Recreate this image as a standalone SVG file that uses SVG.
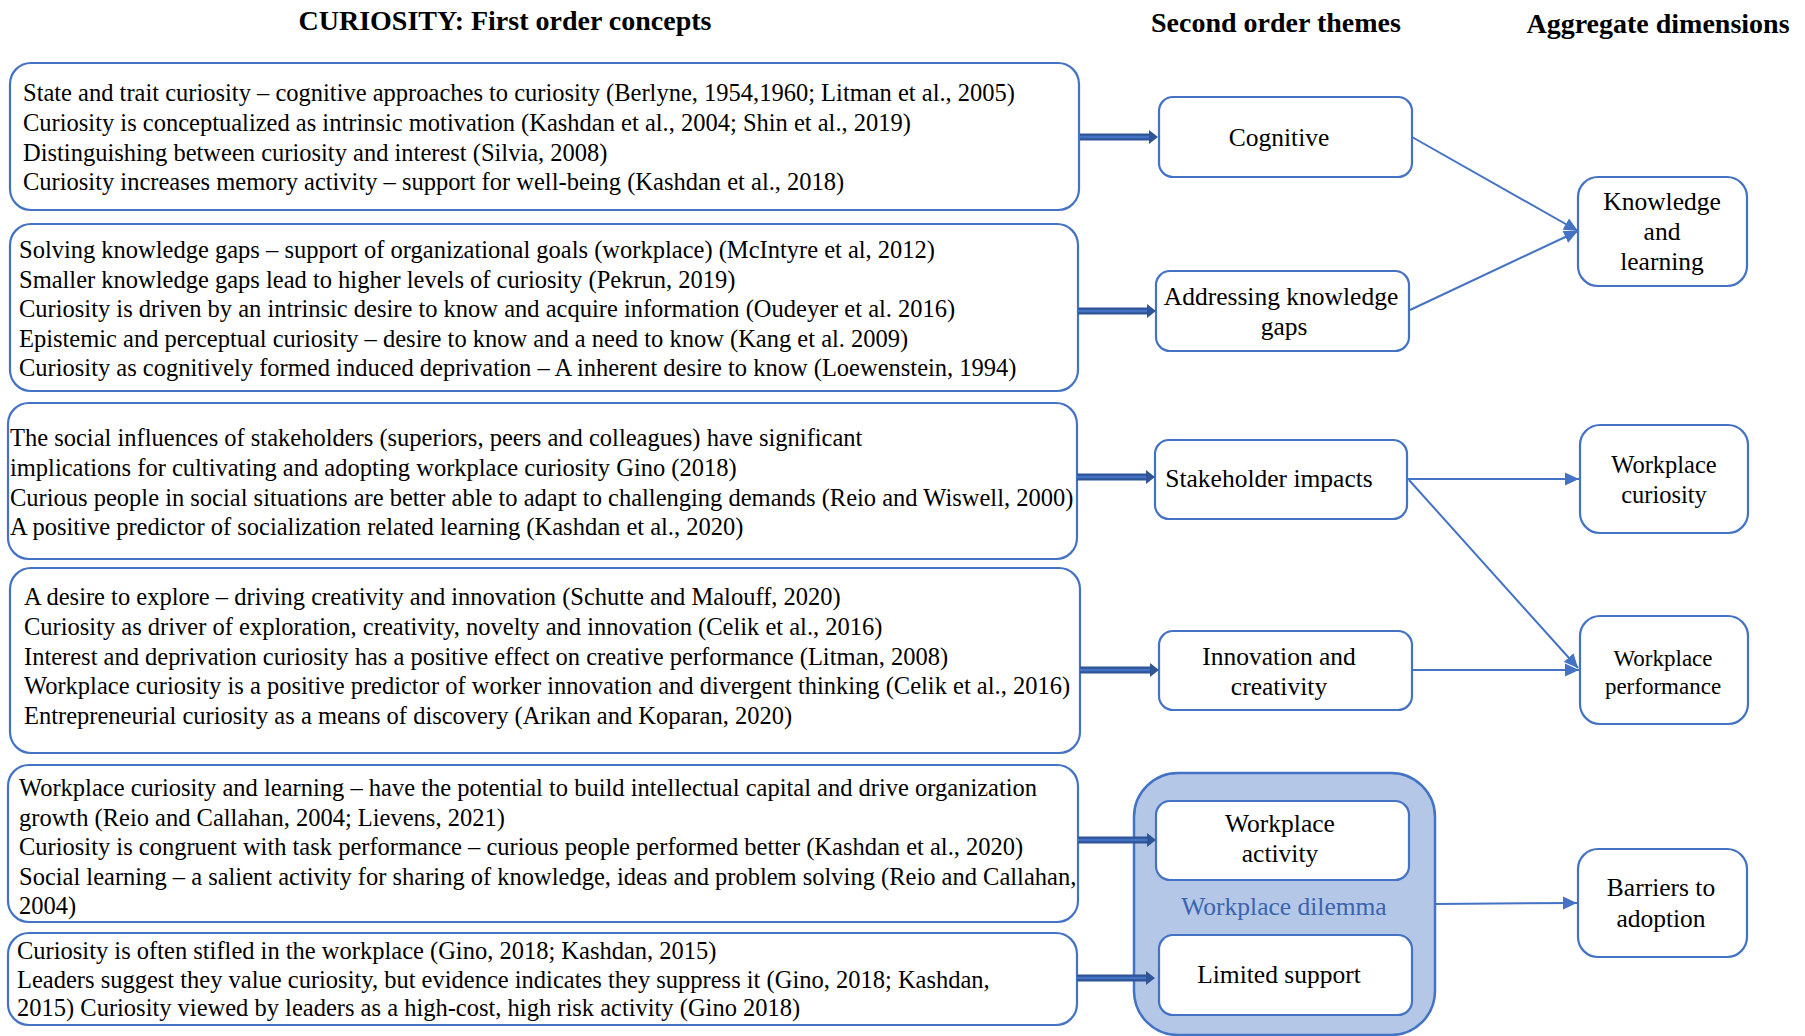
<svg xmlns="http://www.w3.org/2000/svg" width="1805" height="1036" viewBox="0 0 1805 1036">
<style>
.hd{font-family:"Liberation Serif","Times New Roman",serif;font-weight:bold;font-size:28px;fill:#000}
.lt{font-family:"Liberation Serif","Times New Roman",serif;font-size:24.5px;fill:#000}
.nt{font-family:"Liberation Serif","Times New Roman",serif;font-size:25.5px;fill:#000;text-anchor:middle}
.box{fill:#fff;stroke:#4472c4;stroke-width:2.2}
.thin{stroke:#4472c4;stroke-width:2;fill:none}
.thickO{stroke:#2f5597;stroke-width:7;fill:none}
.thickI{stroke:#4472c4;stroke-width:2.5;fill:none}
</style>
<defs>
<marker id="ah" markerUnits="userSpaceOnUse" markerWidth="15" markerHeight="14" viewBox="0 0 15 14" refX="14" refY="7" orient="auto">
<path d="M0,0.5 L14,7 L0,13.5 z" fill="#4472c4"/>
</marker>
<marker id="th" markerUnits="userSpaceOnUse" markerWidth="10" markerHeight="16" viewBox="0 0 10 16" refX="0" refY="8" orient="auto">
<path d="M0,1 L9,8 L0,15 z" fill="#2f5597"/>
</marker>
</defs>
<rect width="1805" height="1036" fill="#fff"/>

<g id="headers">
<text class="hd" x="505" y="30" text-anchor="middle">CURIOSITY: First order concepts</text>
<text class="hd" x="1276" y="32" text-anchor="middle">Second order themes</text>
<text class="hd" x="1658" y="33" text-anchor="middle">Aggregate dimensions</text>
</g>

<g id="concepts1">
<rect class="box" x="10" y="63" width="1069" height="147" rx="21"/>
<text class="lt" x="23" y="101">State and trait curiosity – cognitive approaches to curiosity (Berlyne, 1954,1960; Litman et al., 2005)</text>
<text class="lt" x="23" y="131">Curiosity is conceptualized as intrinsic motivation (Kashdan et al., 2004; Shin et al., 2019)</text>
<text class="lt" x="23" y="161">Distinguishing between curiosity and interest (Silvia, 2008)</text>
<text class="lt" x="23" y="190">Curiosity increases memory activity – support for well-being (Kashdan et al., 2018)</text>
</g>

<g id="concepts2">
<rect class="box" x="10" y="224" width="1068" height="167" rx="21"/>
<text class="lt" x="19" y="258">Solving knowledge gaps – support of organizational goals (workplace) (McIntyre et al, 2012)</text>
<text class="lt" x="19" y="288">Smaller knowledge gaps lead to higher levels of curiosity (Pekrun, 2019)</text>
<text class="lt" x="19" y="317">Curiosity is driven by an intrinsic desire to know and acquire information (Oudeyer et al. 2016)</text>
<text class="lt" x="19" y="347">Epistemic and perceptual curiosity – desire to know and a need to know (Kang et al. 2009)</text>
<text class="lt" x="19" y="376">Curiosity as cognitively formed induced deprivation – A inherent desire to know (Loewenstein, 1994)</text>
</g>

<g id="concepts3">
<rect class="box" x="8" y="403" width="1069" height="156" rx="21"/>
<text class="lt" x="10" y="446">The social influences of stakeholders (superiors, peers and colleagues) have significant</text>
<text class="lt" x="10" y="476">implications for cultivating and adopting workplace curiosity Gino (2018)</text>
<text class="lt" x="10" y="506">Curious people in social situations are better able to adapt to challenging demands (Reio and Wiswell, 2000)</text>
<text class="lt" x="10" y="535">A positive predictor of socialization related learning (Kashdan et al., 2020)</text>
</g>

<g id="concepts4">
<rect class="box" x="10" y="568" width="1070" height="185" rx="21"/>
<text class="lt" x="24" y="605">A desire to explore – driving creativity and innovation (Schutte and Malouff, 2020)</text>
<text class="lt" x="24" y="635">Curiosity as driver of exploration, creativity, novelty and innovation (Celik et al., 2016)</text>
<text class="lt" x="24" y="665">Interest and deprivation curiosity has a positive effect on creative performance (Litman, 2008)</text>
<text class="lt" x="24" y="694">Workplace curiosity is a positive predictor of worker innovation and divergent thinking (Celik et al., 2016)</text>
<text class="lt" x="24" y="724">Entrepreneurial curiosity as a means of discovery (Arikan and Koparan, 2020)</text>
</g>

<g id="concepts5">
<rect class="box" x="8" y="765" width="1070" height="157" rx="21"/>
<text class="lt" x="19" y="796">Workplace curiosity and learning – have the potential to build intellectual capital and drive organization</text>
<text class="lt" x="19" y="826">growth (Reio and Callahan, 2004; Lievens, 2021)</text>
<text class="lt" x="19" y="855">Curiosity is congruent with task performance – curious people performed better (Kashdan et al., 2020)</text>
<text class="lt" x="19" y="885">Social learning – a salient activity for sharing of knowledge, ideas and problem solving (Reio and Callahan,</text>
<text class="lt" x="19" y="914">2004)</text>
</g>

<g id="concepts6">
<rect class="box" x="8" y="933" width="1069" height="92" rx="21"/>
<text class="lt" x="17" y="959">Curiosity is often stifled in the workplace (Gino, 2018; Kashdan, 2015)</text>
<text class="lt" x="17" y="988">Leaders suggest they value curiosity, but evidence indicates they suppress it (Gino, 2018; Kashdan,</text>
<text class="lt" x="17" y="1016">2015) Curiosity viewed by leaders as a high-cost, high risk activity (Gino 2018)</text>
</g>

<g id="dilemma">
<rect x="1134" y="773" width="301" height="262" rx="44" fill="#b4c7e7" stroke="#4472c4" stroke-width="2.5"/>
<text class="nt" x="1284" y="915" style="fill:#3a64ad">Workplace dilemma</text>
</g>

<g id="cognitive">
<rect class="box" x="1159" y="97" width="253" height="80" rx="14"/>
<text class="nt" x="1279" y="146">Cognitive</text>
</g>
<g id="addressing">
<rect class="box" x="1156" y="271" width="253" height="80" rx="14"/>
<text class="nt" x="1281" y="305">Addressing knowledge</text>
<text class="nt" x="1284" y="335">gaps</text>
</g>
<g id="stakeholder">
<rect class="box" x="1155" y="440" width="252" height="79" rx="14"/>
<text class="nt" x="1269" y="487">Stakeholder impacts</text>
</g>
<g id="innovation">
<rect class="box" x="1159" y="631" width="253" height="79" rx="14"/>
<text class="nt" x="1279" y="665">Innovation and</text>
<text class="nt" x="1279" y="695">creativity</text>
</g>
<g id="activity">
<rect class="box" x="1156" y="801" width="253" height="79" rx="14"/>
<text class="nt" x="1280" y="832">Workplace</text>
<text class="nt" x="1280" y="862">activity</text>
</g>
<g id="support">
<rect class="box" x="1159" y="935" width="253" height="80" rx="14"/>
<text class="nt" x="1279" y="983">Limited support</text>
</g>

<g id="knowledge">
<rect class="box" x="1578" y="177" width="169" height="109" rx="20"/>
<text class="nt" x="1662" y="210">Knowledge</text>
<text class="nt" x="1662" y="240">and</text>
<text class="nt" x="1662" y="270">learning</text>
</g>
<g id="wcuriosity">
<rect class="box" x="1580" y="425" width="168" height="108" rx="20"/>
<text class="nt" x="1664" y="473" style="font-size:24.5px">Workplace</text>
<text class="nt" x="1664" y="503" style="font-size:24.5px">curiosity</text>
</g>
<g id="wperformance">
<rect class="box" x="1580" y="616" width="168" height="108" rx="20"/>
<text class="nt" x="1663" y="666" style="font-size:23px">Workplace</text>
<text class="nt" x="1663" y="694" style="font-size:23px">performance</text>
</g>
<g id="barriers">
<rect class="box" x="1578" y="849" width="169" height="108" rx="20"/>
<text class="nt" x="1661" y="896">Barriers to</text>
<text class="nt" x="1661" y="927">adoption</text>
</g>

<g id="connectors">
<line class="thickO" x1="1080" y1="137" x2="1149" y2="137" marker-end="url(#th)"/>
<line class="thickI" x1="1080" y1="137" x2="1149" y2="137"/>
<line class="thickO" x1="1078" y1="311" x2="1147" y2="311" marker-end="url(#th)"/>
<line class="thickI" x1="1078" y1="311" x2="1147" y2="311"/>
<line class="thickO" x1="1077" y1="477" x2="1146" y2="477" marker-end="url(#th)"/>
<line class="thickI" x1="1077" y1="477" x2="1146" y2="477"/>
<line class="thickO" x1="1080" y1="670" x2="1150" y2="670" marker-end="url(#th)"/>
<line class="thickI" x1="1080" y1="670" x2="1150" y2="670"/>
<line class="thickO" x1="1078" y1="840" x2="1147" y2="840" marker-end="url(#th)"/>
<line class="thickI" x1="1078" y1="840" x2="1147" y2="840"/>
<line class="thickO" x1="1077" y1="978" x2="1146" y2="978" marker-end="url(#th)"/>
<line class="thickI" x1="1077" y1="978" x2="1146" y2="978"/>

<line class="thin" x1="1412" y1="137" x2="1578" y2="231" marker-end="url(#ah)"/>
<line class="thin" x1="1410" y1="310" x2="1578" y2="231" marker-end="url(#ah)"/>
<line class="thin" x1="1408" y1="479" x2="1579" y2="479" marker-end="url(#ah)"/>
<line class="thin" x1="1409" y1="480" x2="1578" y2="668" marker-end="url(#ah)"/>
<line class="thin" x1="1412" y1="670" x2="1579" y2="670" marker-end="url(#ah)"/>
<line class="thin" x1="1435" y1="904" x2="1577" y2="903" marker-end="url(#ah)"/>
</g>
</svg>
